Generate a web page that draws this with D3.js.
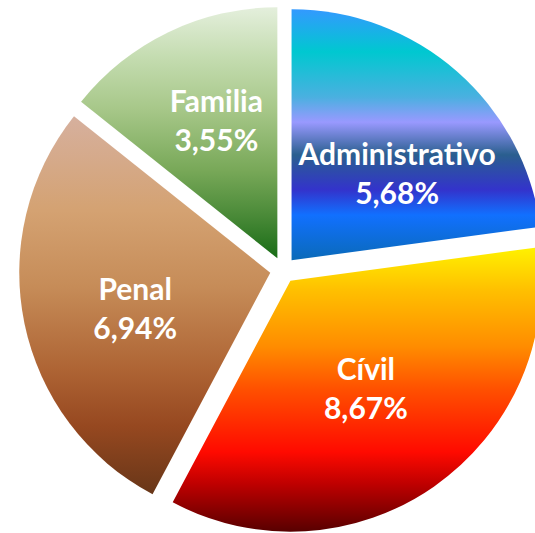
<!DOCTYPE html>
<html>
<head>
<meta charset="utf-8">
<script src="https://cdn.jsdelivr.net/npm/d3@7"></script>
<style>
  html, body { margin: 0; padding: 0; background: #fff; }
  svg { display: block; }
  .lbl { font-family: Lato, "Open Sans", sans-serif; font-weight: 700; fill: #fff; }
</style>
</head>
<body>
<svg id="chart" width="535" height="533"></svg>
<script>
// data
const categories = ['Administrativo', 'Cívil', 'Penal', 'Familia'];
const values = [5.68, 8.67, 6.94, 3.55];
const valueLabels = ['5,68%', '8,67%', '6,94%', '3,55%'];

// gradient fills (top -> bottom of each slice)
const gradients = [
  [[0, '#3399ff'], [0.17, '#00c8d0'], [0.35, '#4ab0e0'], [0.45, '#9999ff'], [0.58, '#2a5f8f'], [0.72, '#3333cc'], [0.82, '#1170ff'], [1, '#0a6ab8']],
  [[0, '#fff200'], [0.15, '#ffc000'], [0.35, '#ff8c00'], [0.5, '#ff5000'], [0.72, '#ff0a00'], [0.83, '#c00000'], [1, '#580000']],
  [[0, '#d6b09e'], [0.25, '#d4a272'], [0.45, '#c68c58'], [0.67, '#ae6434'], [0.82, '#964820'], [1, '#683618']],
  [[0, '#e4efdc'], [0.2, '#c4dcb0'], [0.4, '#a8c88a'], [0.65, '#78a858'], [0.83, '#4a8a38'], [1, '#186c16']]
];

const svg = d3.select('#chart');
const cx = 283, cy = 270;
const radius = 251;
const explode = 13;
const labelR = 136;
// a few labels sit a little off the bisector in the original
const labelNudge = {
  'Administrativo': { da: 0.17, dr: 0 },
  'Cívil': { da: 0, dr: -4 },
  'Penal': { da: -0.06, dr: 4 },
  'Familia': { da: 0.03, dr: 14 }
};

const data = categories.map((c, i) => ({ name: c, value: values[i], label: valueLabels[i], i }));

const pie = d3.pie().value(d => d.value).sort(null);
const arcs = pie(data);
const arc = d3.arc().innerRadius(0).outerRadius(radius);

const defs = svg.append('defs');
arcs.forEach((a, i) => {
  const g = defs.append('linearGradient')
    .attr('id', 'grad' + i)
    .attr('x1', 0).attr('y1', 0).attr('x2', 0).attr('y2', 1);
  gradients[i].forEach(s => {
    g.append('stop').attr('offset', s[0]).attr('stop-color', s[1]);
  });
});

const root = svg.append('g').attr('transform', `translate(${cx},${cy})`);

const slices = root.selectAll('g.slice')
  .data(arcs)
  .join('g')
  .attr('class', 'slice')
  .attr('transform', d => {
    const mid = (d.startAngle + d.endAngle) / 2;
    return `translate(${Math.sin(mid) * explode},${-Math.cos(mid) * explode})`;
  });

slices.append('path')
  .attr('d', arc)
  .attr('fill', (d, i) => `url(#grad${i})`);

const txt = slices.append('text')
  .attr('class', 'lbl')
  .attr('text-anchor', 'middle')
  .attr('font-size', 30)
  .attr('transform', d => {
    const n = labelNudge[d.data.name] || { da: 0, dr: 0 };
    const mid = (d.startAngle + d.endAngle) / 2 + n.da;
    const r = labelR + n.dr;
    return `translate(${Math.sin(mid) * r},${-Math.cos(mid) * r})`;
  });

txt.append('tspan').attr('x', 0).attr('y', -9).text(d => d.data.name);
txt.append('tspan').attr('x', 0).attr('y', 30).text(d => d.data.label);
</script>
</body>
</html>
